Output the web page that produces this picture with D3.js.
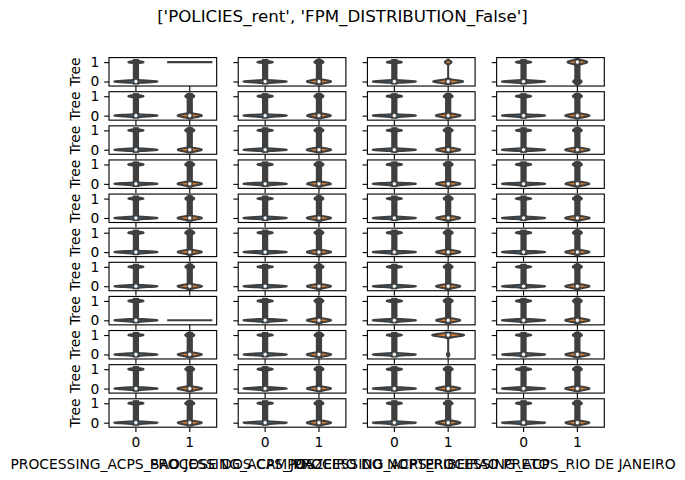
<!DOCTYPE html>
<html><head><meta charset="utf-8">
<script src="https://cdn.jsdelivr.net/npm/d3@7"></script>
<style>body{margin:0;background:#fff} text{font-family:"DejaVu Sans",sans-serif}</style>
</head><body><svg id="chart" width="685" height="480"></svg>
<script>
// ---------------- data ----------------
const title = "['POLICIES_rent', 'FPM_DISTRIBUTION_False']";
const columnLabels = ["PROCESSING_ACPS_SAO JOSE DOS CAMPOS", "PROCESSING_ACPS_JUAZEIRO DO NORTE",
                      "PROCESSING_ACPS_RIBEIRAO PRETO", "PROCESSING_ACPS_RIO DE JANEIRO"];
const rowLabels = ["Tree","Tree","Tree","Tree","Tree","Tree","Tree","Tree","Tree","Tree","Tree"];
const categories = ["0", "1"];
const yTicks = [0, 1];
// counts of 0 / 1 values of "Tree" per panel (rows x columns), category 0 (blue)
const blueZeros = [
  [118400,117900,118800,118100],[118200,118600,117800,118300],[118500,118000,118300,118700],
  [117900,118400,118100,118200],[118300,118100,118600,117900],[118000,118500,118200,118400],
  [118600,117800,118400,118100],[118100,118300,117900,118600],[118400,118200,118500,118000],
  [117800,118600,118100,118300],[118300,117900,118400,118200]];
const blueOnes = [
  [41600,41800,41300,41700],[41500,41400,41900,41600],[41700,41600,41500,41300],
  [41900,41500,41700,41600],[41400,41800,41300,41900],[41800,41400,41600,41500],
  [41300,41900,41500,41700],[41600,41500,41800,41300],[41500,41700,41400,41800],
  [41900,41300,41700,41600],[41600,41800,41500,41400]];
// category 1 (orange)
const orangeZeros = [
  [0,7250,6720,1530],[7300,7200,7350,7280],[7220,7310,7260,7300],
  [7280,7240,7330,7210],[7310,7270,7220,7350],[7240,7330,7290,7260],
  [7350,7220,7310,7280],[40,7290,7240,7320],[7270,7340,54,7230],
  [7320,7260,7280,7300],[7260,7300,7350,7240]];
const orangeOnes = [
  [40,2700,1480,3570],[2680,2720,2660,2700],[2710,2690,2700,2650],
  [2690,2730,2670,2720],[2660,2700,2720,2680],[2730,2670,2690,2710],
  [2650,2720,2680,2700],[0,2700,2730,2660],[2700,2660,716,2720],
  [2670,2710,2690,2680],[2720,2680,2650,2730]];

// ---------------- layout ----------------
const svg = d3.select("#chart");
const figLeft = 109, figRight = 604.3, figTop = 57.6, figBottom = 427.2;
const nCols = columnLabels.length, nRows = rowLabels.length, wspace = 0.2, hspace = 0.2;
const pw = (figRight - figLeft) / (nCols + (nCols - 1) * wspace);
const ph = (figBottom - figTop) / (nRows + (nRows - 1) * hspace);
const PT = 100 / 72;
const gray = "#3f3f3f";
const colors = ["#3274a1", "#e1812c"];
const lw = 1.5 * PT;

function gauss(v, m, h) { const z = (v - m) / h; return Math.exp(-0.5 * z * z) / (h * Math.sqrt(2 * Math.PI)); }
function quant(n0, n, p) { // numpy linear percentile on sorted 0/1 data
  const idx = p * (n - 1), lo = Math.floor(idx), hi = Math.ceil(idx);
  const v = k => (k < n0 ? 0 : 1);
  return v(lo) + (v(hi) - v(lo)) * (idx - lo);
}
function violinStats(n0, n1) {
  const n = n0 + n1;
  if (n0 === 0 || n1 === 0) return { single: true, value: n0 === 0 ? 1 : 0 };
  const mean = n1 / n;
  const variance = (n0 * mean * mean + n1 * (1 - mean) * (1 - mean)) / (n - 1);
  const h = Math.sqrt(variance) * Math.pow(n, -0.2);
  const lo = -2 * h, hi = 1 + 2 * h;
  const support = d3.range(100).map(i => lo + (hi - lo) * i / 99);
  const density = support.map(v => (n0 * gauss(v, 0, h) + n1 * gauss(v, 1, h)) / n);
  const q25 = quant(n0, n, 0.25), q50 = quant(n0, n, 0.5), q75 = quant(n0, n, 0.75);
  const iqr = 1.5 * (q75 - q25);
  const vals = [0, 1];
  const h1 = d3.min(vals.filter(v => v >= q25 - iqr));
  const h2 = d3.max(vals.filter(v => v <= q75 + iqr));
  return { single: false, support, density, lo, hi, q25, q50, q75, h1, h2 };
}

const panels = [];
for (let r = 0; r < nRows; r++) for (let c = 0; c < nCols; c++) {
  panels.push({ r, c, violins: [violinStats(blueZeros[r][c], blueOnes[r][c]),
                                violinStats(orangeZeros[r][c], orangeOnes[r][c])] });
}
// shared y limits from violin supports, with 5% margins
let ymin = Infinity, ymax = -Infinity;
panels.forEach(p => p.violins.forEach(v => {
  if (v.single) { ymin = Math.min(ymin, v.value); ymax = Math.max(ymax, v.value); }
  else { ymin = Math.min(ymin, v.lo); ymax = Math.max(ymax, v.hi); }
}));
const pad = 0.05 * (ymax - ymin);
const y = d3.scaleLinear().domain([ymin - pad, ymax + pad]).range([ph, 0]);
const x = d3.scaleBand().domain(categories).range([0, pw]);

svg.append("text").attr("x", 342.5).attr("y", 22).attr("text-anchor", "middle")
  .attr("font-size", 12 * PT).attr("fill", "#000").text(title);

panels.forEach(p => {
  const gx = figLeft + p.c * pw * (1 + wspace), gy = figTop + p.r * ph * (1 + hspace);
  const g = svg.append("g").attr("transform", `translate(${gx},${gy})`);
  const dens = p.violins.filter(v => !v.single).map(v => d3.max(v.density));
  const maxD = d3.max(dens) || 1;
  const dwidth = 0.4 * x.bandwidth();
  p.violins.forEach((v, i) => {
    const xc = x(categories[i]) + x.bandwidth() / 2;
    if (v.single) {
      g.append("line").attr("x1", xc - dwidth).attr("x2", xc + dwidth)
        .attr("y1", y(v.value)).attr("y2", y(v.value))
        .attr("stroke", gray).attr("stroke-width", lw).attr("stroke-linecap", "square");
      return;
    }
    const pts = v.support.map((s, k) => ({ s, w: v.density[k] / maxD * dwidth }));
    const area = d3.area().y(d => y(d.s)).x0(d => xc - d.w).x1(d => xc + d.w);
    g.append("path").attr("d", area(pts)).attr("fill", colors[i])
      .attr("stroke", gray).attr("stroke-width", lw).attr("stroke-linejoin", "round");
    g.append("path").attr("d", `M${xc},${y(v.h1)}L${xc},${y(v.h2)}`)
      .attr("stroke", gray).attr("stroke-width", lw).attr("stroke-linecap", "square");
    g.append("path").attr("d", `M${xc},${y(v.q25)}L${xc},${y(v.q75)}`)
      .attr("stroke", gray).attr("stroke-width", lw * 3).attr("stroke-linecap", "square");
    g.append("circle").attr("cx", xc).attr("cy", y(v.q50)).attr("r", 1.5 * PT)
      .attr("fill", "white").attr("stroke", gray).attr("stroke-width", 0.7);
  });
  // frame
  g.append("rect").attr("width", pw).attr("height", ph).attr("fill", "none")
    .attr("stroke", "#000").attr("stroke-width", 0.8 * PT);
  // axes
  const ya = d3.axisLeft(y).tickValues(yTicks).tickSize(3.5 * PT).tickPadding(3.5 * PT)
    .tickFormat(p.c === 0 ? d3.format("d") : () => "");
  const yg = g.append("g").call(ya);
  const xa = d3.axisBottom(x).tickSize(3.5 * PT).tickPadding(3.5 * PT)
    .tickFormat(p.r === nRows - 1 ? (d => d) : () => "");
  const xg = g.append("g").attr("transform", `translate(0,${ph})`).call(xa);
  [yg, xg].forEach(a => {
    a.select(".domain").remove();
    a.selectAll("line").attr("stroke", "#000").attr("stroke-width", 0.8 * PT);
    a.selectAll("text").attr("font-size", 10 * PT).attr("fill", "#000")
      .style("font-family", "DejaVu Sans");
    a.attr("font-family", null).attr("font-size", null);
  });
  if (p.c === 0) {
    g.append("text").attr("transform", `translate(${79.5 - figLeft},${ph / 2}) rotate(-90)`)
      .attr("text-anchor", "middle").attr("font-size", 10 * PT).attr("fill", "#000")
      .text(rowLabels[p.r]);
  }
  if (p.r === nRows - 1) {
    g.append("text").attr("x", pw / 2).attr("y", 469 - gy).attr("text-anchor", "middle")
      .attr("font-size", 10 * PT).attr("fill", "#000").text(columnLabels[p.c]);
  }
});
</script></body></html>
